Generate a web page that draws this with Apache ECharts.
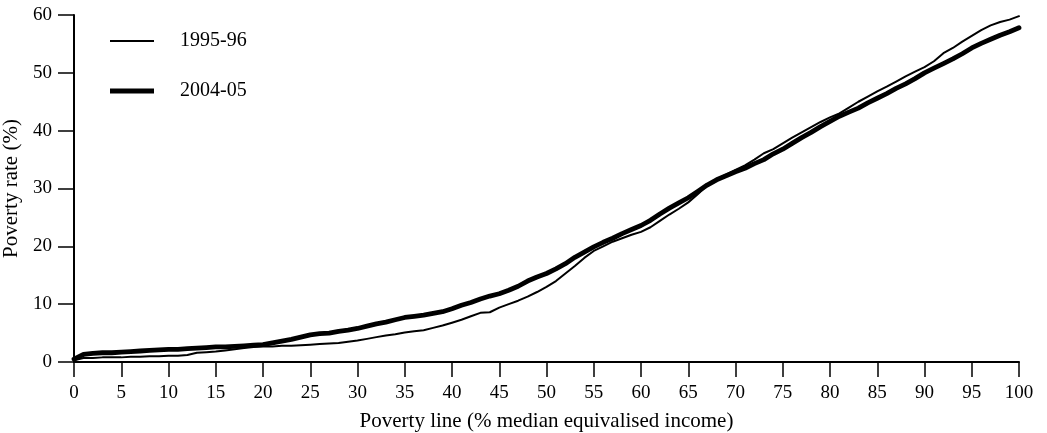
<!DOCTYPE html>
<html>
<head>
<meta charset="utf-8">
<script src="https://cdn.jsdelivr.net/npm/echarts@6/dist/echarts.min.js"></script>
<style>
  html, body { margin: 0; padding: 0; background: #fff; }
  #chart { width: 1047px; height: 433px; }
</style>
</head>
<body>
<div id="chart"></div>
<script>
// Poverty line as % of median equivalised income (0..100)
const povertyLine = Array.from({ length: 101 }, (_, i) => i);

// Poverty rate (%) at each poverty line, 1995-96
const rate199596 = [
  0.3, 0.7, 0.7, 0.8, 0.8, 0.8, 0.9, 0.9, 1.0, 1.0,
  1.1, 1.1, 1.2, 1.6, 1.7, 1.8, 2.0, 2.2, 2.4, 2.6,
  2.7, 2.7, 2.8, 2.8, 2.9, 3.0, 3.1, 3.2, 3.3, 3.5,
  3.7, 4.0, 4.3, 4.6, 4.8, 5.1, 5.3, 5.5, 5.9, 6.3,
  6.8, 7.3, 7.9, 8.5, 8.6, 9.4, 10.0, 10.6, 11.3, 12.1,
  13.0, 14.0, 15.3, 16.6, 18.0, 19.2, 20.0, 20.8, 21.4, 22.0,
  22.5, 23.3, 24.4, 25.5, 26.5, 27.6, 29.0, 30.5, 31.6, 32.4,
  33.2, 34.0, 35.0, 36.1, 36.8, 37.8, 38.8, 39.7, 40.6, 41.5,
  42.3, 43.0, 44.0, 45.0, 45.9, 46.8, 47.6, 48.5, 49.4, 50.2,
  51.0, 52.0, 53.4, 54.3, 55.4, 56.4, 57.4, 58.2, 58.8, 59.2,
  59.8
];

// Poverty rate (%) at each poverty line, 2004-05
const rate200405 = [
  0.5, 1.3, 1.5, 1.6, 1.6, 1.7, 1.8, 1.9, 2.0, 2.1,
  2.2, 2.2, 2.3, 2.4, 2.5, 2.6, 2.6, 2.7, 2.8, 2.9,
  3.0, 3.3, 3.6, 3.9, 4.3, 4.7, 4.9, 5.0, 5.3, 5.5,
  5.8, 6.2, 6.6, 6.9, 7.3, 7.7, 7.9, 8.1, 8.4, 8.7,
  9.2, 9.8, 10.3, 10.9, 11.4, 11.8, 12.4, 13.1, 14.0, 14.7,
  15.3, 16.1, 17.0, 18.1, 19.0, 19.9, 20.7, 21.4, 22.2, 22.9,
  23.6, 24.5, 25.6, 26.6, 27.5, 28.4, 29.5, 30.6, 31.5, 32.2,
  32.9, 33.5, 34.3, 35.0, 36.0, 36.8, 37.8, 38.8, 39.7, 40.7,
  41.6, 42.5, 43.2, 43.9, 44.8, 45.6, 46.4, 47.3, 48.1, 49.0,
  50.0, 50.8, 51.6, 52.4, 53.3, 54.3, 55.1, 55.8, 56.5, 57.1,
  57.8
];

const seriesNames = ['1995-96', '2004-05'];
const xTitle = 'Poverty line (% median equivalised income)';
const yTitle = 'Poverty rate (%)';

const FONT = '"Liberation Serif", "Times New Roman", serif';
const INK = '#000';
const THIN = 2;
const THICK = 4.8;

const pair = (ys) => povertyLine.map((x, i) => [x, ys[i]]);

// Legend keys drawn as flat bars whose height equals the series line width
const keyIcon = (h) => `path://M0,0 L44,0 L44,${h} L0,${h} Z`;

const chart = echarts.init(document.getElementById('chart'), null, { renderer: 'canvas' });

chart.setOption({
  animation: false,
  backgroundColor: '#fff',
  textStyle: { fontFamily: FONT, color: INK },
  grid: {
    left: 74, right: 28, top: 15, bottom: 71,
    containLabel: false,
    outerBoundsMode: 'none'
  },
  legend: {
    orient: 'vertical',
    left: 110,
    top: 31,
    itemWidth: 44,
    itemHeight: 18,
    itemGap: 30,
    padding: 0,
    selectedMode: false,
    itemStyle: { color: INK, borderWidth: 0 },
    textStyle: { fontFamily: FONT, fontSize: 20, color: INK, padding: [0, 0, 0, 21] },
    data: [
      { name: seriesNames[0], icon: keyIcon(THIN) },
      { name: seriesNames[1], icon: keyIcon(5) }
    ]
  },
  xAxis: {
    type: 'value',
    min: 0,
    max: 100,
    interval: 5,
    name: xTitle,
    nameLocation: 'middle',
    nameGap: 49,
    nameTextStyle: { fontFamily: FONT, fontSize: 21, color: INK },
    axisLine: { lineStyle: { color: INK, width: 2 } },
    axisTick: { length: 15, lineStyle: { color: INK, width: 1.5 } },
    axisLabel: { fontFamily: FONT, fontSize: 19, color: INK, margin: 22 },
    splitLine: { show: false }
  },
  yAxis: {
    type: 'value',
    min: 0,
    max: 60,
    interval: 10,
    name: yTitle,
    nameLocation: 'middle',
    nameGap: 45,
    nameTextStyle: { fontFamily: FONT, fontSize: 21, color: INK },
    axisLine: { show: true, lineStyle: { color: INK, width: 2 } },
    axisTick: { show: true, length: 16, lineStyle: { color: INK, width: 1.5 } },
    axisLabel: { fontFamily: FONT, fontSize: 19, color: INK, margin: 22 },
    splitLine: { show: false }
  },
  series: [
    {
      name: seriesNames[0],
      type: 'line',
      data: pair(rate199596),
      showSymbol: false,
      symbol: 'none',
      lineStyle: { color: INK, width: THIN, join: 'round', cap: 'round' },
      itemStyle: { color: INK },
      z: 3
    },
    {
      name: seriesNames[1],
      type: 'line',
      data: pair(rate200405),
      showSymbol: false,
      symbol: 'none',
      lineStyle: { color: INK, width: THICK, join: 'round', cap: 'round' },
      itemStyle: { color: INK },
      z: 2
    }
  ]
});
</script>
</body>
</html>
